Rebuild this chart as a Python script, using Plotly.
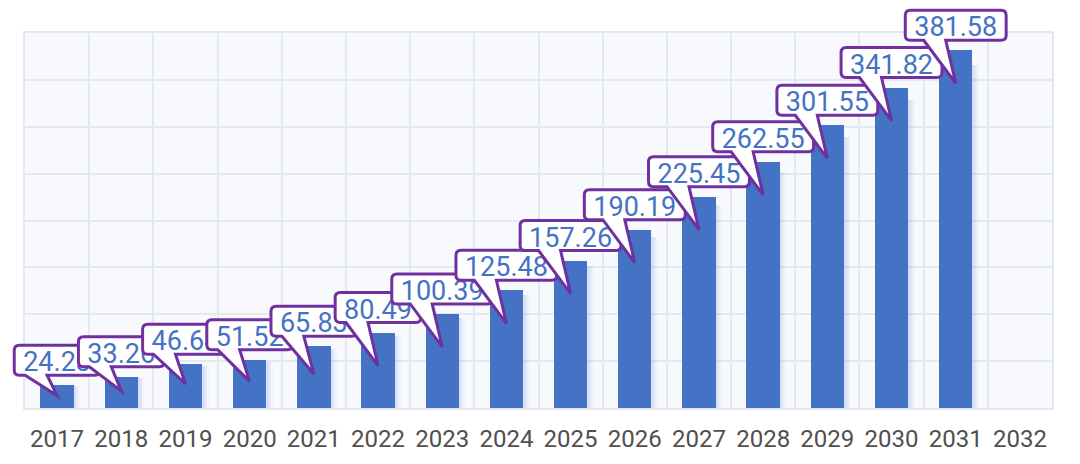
import plotly.graph_objects as go

# ---- data ----
years = [2017, 2018, 2019, 2020, 2021, 2022, 2023, 2024, 2025, 2026, 2027, 2028, 2029, 2030, 2031, 2032]
bar_years = years[:15]
values = [24.23, 33.26, 46.64, 51.52, 65.83, 80.49, 100.39, 125.48, 157.26, 190.19,
          225.45, 262.55, 301.55, 341.82, 381.58]
tick_labels = [str(y) for y in years]

# ---- style ----
BAR = "#4472C4"
PURPLE = "#7030A0"
GRID = "#E4E9F1"
W, H = 1080, 464
# the page body adds an 8px offset; margins compensate for it
M = dict(l=17, r=36, t=25, b=64)
PW = W - M["l"] - M["r"]
PH = H - M["t"] - M["b"]
X_RANGE = [years[0] - 0.5, years[-1] + 0.5]
Y_RANGE = [0, 400]
PX_PER_UNIT = PH / (Y_RANGE[1] - Y_RANGE[0])
FONT = "Roboto"
LABEL_SIZE = 27

fig = go.Figure()

# soft shadow to the right of the bars
for shift, alpha in [(0.10, 0.04), (0.07, 0.06), (0.04, 0.08)]:
    fig.add_trace(go.Bar(
        x=bar_years, y=[v * 0.96 for v in values], width=0.52, offset=-0.26 + shift,
        marker=dict(color=f"rgba(68,114,196,{alpha})", line=dict(width=0)),
        hoverinfo="skip", showlegend=False))

fig.add_trace(go.Bar(
    x=bar_years, y=values, width=0.52, offset=-0.26,
    marker=dict(color=BAR, line=dict(width=0)), showlegend=False))

# ---- callouts (box + tail outline, then its label) ----
shapes = []
for yr, v in zip(bar_years, values):
    txt = f"{v:.2f}"
    ndig = sum(c.isdigit() for c in txt)
    tw = ndig * 0.562 * LABEL_SIZE + 0.26 * LABEL_SIZE
    hw = tw / 2 + 9
    b, t, r = 10, 40, 5
    d = min(33, 0.45 * v * PX_PER_UNIT)
    xa = (yr - X_RANGE[0]) / (X_RANGE[1] - X_RANGE[0])
    ya = (v - Y_RANGE[0]) / (Y_RANGE[1] - Y_RANGE[0])

    def P(px, py):
        return f"{xa + px / PW:.6f},{ya + py / PH:.6f}"

    path = (f"M{P(-hw + r, t)} L{P(hw - r, t)} Q{P(hw, t)} {P(hw, t - r)} "
            f"L{P(hw, b + r)} Q{P(hw, b)} {P(hw - r, b)} "
            f"L{P(-10, b)} L{P(0, -d)} L{P(-32, b)} "
            f"L{P(-hw + r, b)} Q{P(-hw, b)} {P(-hw, b + r)} "
            f"L{P(-hw, t - r)} Q{P(-hw, t)} {P(-hw + r, t)} Z")
    shapes.append(dict(
        type="path", path=path, xref="x domain", yref="y domain",
        fillcolor="white", line=dict(color=PURPLE, width=3), layer="above"))
    shapes.append(dict(
        type="rect", xref="x domain", yref="y domain",
        x0=xa - hw / PW, x1=xa + hw / PW, y0=ya + b / PH, y1=ya + t / PH,
        fillcolor="rgba(0,0,0,0)", line=dict(width=0), layer="above",
        label=dict(text=txt, textposition="middle center", padding=0,
                   font=dict(family=FONT, size=LABEL_SIZE, color=BAR))))

fig.update_layout(
    width=W, height=H,
    margin=M,
    paper_bgcolor="white", plot_bgcolor="#F7F9FD",
    barmode="overlay", bargap=0,
    shapes=shapes,
    xaxis=dict(
        range=X_RANGE, tickmode="array", tickvals=years, ticktext=tick_labels,
        showgrid=False, zeroline=False, ticks="",
        showline=True, mirror=True, linecolor=GRID, linewidth=2,
        tickfont=dict(family=FONT, size=24, color="#505050"),
        ticklabelstandoff=8,
        minor=dict(tickmode="array", tickvals=[y - 0.5 for y in years] + [years[-1] + 0.5],
                   showgrid=True, gridcolor=GRID, gridwidth=2, ticks=""),
    ),
    yaxis=dict(
        range=Y_RANGE, dtick=50, showticklabels=False, ticks="",
        showgrid=True, gridcolor=GRID, gridwidth=2, zeroline=False,
        showline=True, mirror=True, linecolor=GRID, linewidth=2,
    ),
)

fig.write_html("out.html")
